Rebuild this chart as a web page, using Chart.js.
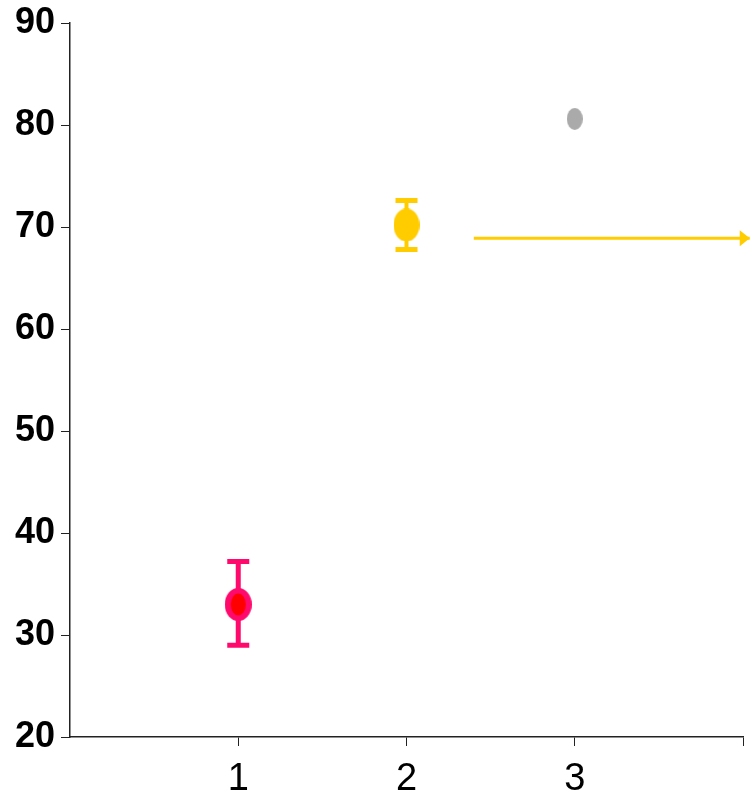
<!DOCTYPE html>
<html>
<head>
<meta charset="utf-8">
<script src="https://cdn.jsdelivr.net/npm/chart.js@4/dist/chart.umd.min.js"></script>
<style>
  html, body { margin: 0; padding: 0; background: #fff; }
  #wrap { width: 750px; height: 792px; }
</style>
</head>
<body>
<div id="wrap"><canvas id="grafico" width="750" height="792"></canvas></div>
<script>
// dados
const xGrupos   = [1, 2, 3];
const medias    = [33.0, 70.2, 80.6];
const erroMin   = [29.0, 67.8, null];
const erroMax   = [37.2, 72.6, null];
const yTicks    = [20, 30, 40, 50, 60, 70, 80, 90];
const xTicks    = [1, 2, 3, 4];
const setaX     = [2.4, 4.04];
const setaY     = [68.9, 68.9];

const COR_ERRO  = ['#ff0a6c', '#ffcc00', '#aaaaaa'];

// ── marcadores elípticos ─────────────────────────────────────────────────────
function elipse(w, h, cor, interno) {
  const c = document.createElement('canvas');
  c.width = w; c.height = h;
  const g = c.getContext('2d');
  g.fillStyle = cor;
  g.beginPath();
  g.ellipse(w / 2, h / 2, w / 2, h / 2, 0, 0, Math.PI * 2);
  g.fill();
  if (interno) {
    g.fillStyle = interno.cor;
    g.beginPath();
    g.ellipse(w / 2, h / 2, interno.w / 2, interno.h / 2, 0, 0, Math.PI * 2);
    g.fill();
  }
  return c;
}

const marcadores = [
  elipse(27, 33, '#ff0a6c', { w: 15, h: 22, cor: '#ff0000' }),
  elipse(26, 33, '#ffcc00'),
  elipse(16, 22, '#aaaaaa')
];

// ── barras de erro (antes dos pontos) e ponta da seta ───────────────────────
const barrasErro = {
  id: 'barrasErro',
  beforeDatasetsDraw(chart) {
    const ctx = chart.ctx;
    const sx = chart.scales.x, sy = chart.scales.y;
    ctx.save();
    xGrupos.forEach((x, i) => {
      if (erroMin[i] == null) return;
      const px = sx.getPixelForValue(x);
      const y1 = sy.getPixelForValue(erroMin[i]);
      const y2 = sy.getPixelForValue(erroMax[i]);
      ctx.strokeStyle = COR_ERRO[i];
      ctx.lineWidth = i === 0 ? 5 : 4;
      ctx.beginPath();
      ctx.moveTo(px, y1); ctx.lineTo(px, y2);
      ctx.stroke();
      ctx.lineWidth = 5;
      ctx.beginPath();
      ctx.moveTo(px - 11, y1); ctx.lineTo(px + 11, y1);
      ctx.moveTo(px - 11, y2); ctx.lineTo(px + 11, y2);
      ctx.stroke();
    });
    ctx.restore();
  },
  afterDatasetsDraw(chart) {
    const ctx = chart.ctx;
    const sx = chart.scales.x, sy = chart.scales.y;
    const px = sx.getPixelForValue(setaX[1]);
    const py = sy.getPixelForValue(setaY[1]);
    ctx.save();
    ctx.fillStyle = '#ffcc00';
    ctx.beginPath();
    ctx.moveTo(px, py);
    ctx.lineTo(px - 10, py - 8);
    ctx.lineTo(px - 10, py + 8);
    ctx.closePath();
    ctx.fill();
    ctx.restore();
  }
};

new Chart(document.getElementById('grafico'), {
  type: 'scatter',
  data: {
    datasets: [
      {
        data: xGrupos.map((x, i) => ({ x, y: medias[i] })),
        pointStyle: marcadores,
        pointRadius: 14,
        clip: false
      },
      {
        data: setaX.map((x, i) => ({ x, y: setaY[i] })),
        showLine: true,
        borderColor: '#ffcc00',
        borderWidth: 3,
        pointRadius: 0,
        clip: false
      }
    ]
  },
  options: {
    responsive: false,
    animation: false,
    layout: { autoPadding: false, padding: { top: 23, right: 7, left: 0, bottom: 0 } },
    plugins: {
      legend: { display: false },
      tooltip: { enabled: false }
    },
    scales: {
      x: {
        type: 'linear',
        min: 0,
        max: 4,
        afterBuildTicks: s => { s.ticks = xTicks.map(v => ({ value: v })); },
        afterFit: s => { s.height = 55; s.paddingLeft = 0; s.paddingRight = 0; },
        ticks: {
          callback: v => (v === 4 ? '' : v),
          color: '#000',
          font: { family: 'Liberation Sans', size: 38 },
          padding: 11,
          maxRotation: 0
        },
        grid: { drawOnChartArea: false, drawTicks: true, tickLength: 9, color: '#222', lineWidth: 1 },
        border: { display: true, color: '#222', width: 1.5 }
      },
      y: {
        min: 20,
        max: 90,
        afterBuildTicks: s => { s.ticks = yTicks.map(v => ({ value: v })); },
        afterFit: s => { s.width = 70; s.paddingTop = 0; s.paddingBottom = 0; },
        ticks: {
          color: '#000',
          font: { family: 'Liberation Sans', size: 36, weight: 'bold' },
          padding: 6
        },
        grid: { drawOnChartArea: false, drawTicks: true, tickLength: 9, color: '#222', lineWidth: 1 },
        border: { display: true, color: '#222', width: 1.5 }
      }
    }
  },
  plugins: [barrasErro]
});
</script>
</body>
</html>
